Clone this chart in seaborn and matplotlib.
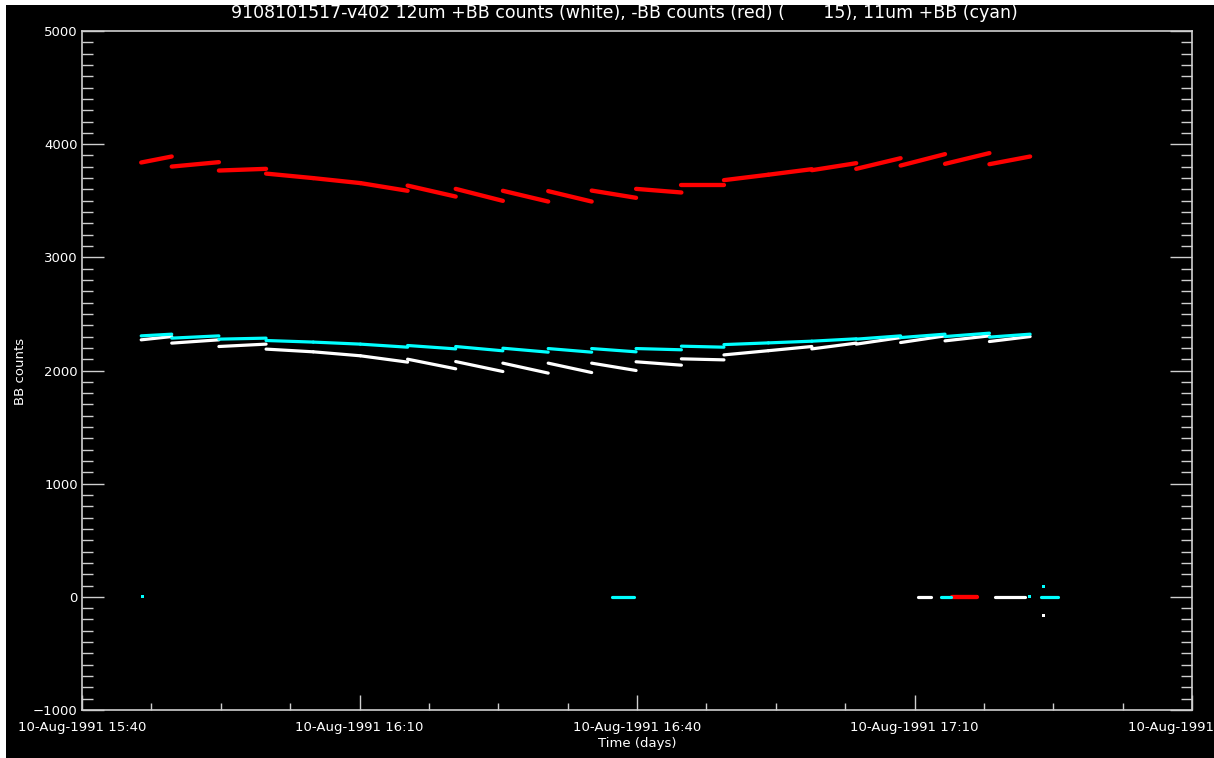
"""BB counts vs time, 9108101517-v402 — 12um +BB / -BB and 11um +BB cal cycles."""

import matplotlib
matplotlib.use("Agg")
import matplotlib.pyplot as plt
import matplotlib.dates as mdates
from matplotlib.patches import Rectangle
from matplotlib.ticker import FixedLocator, MultipleLocator
import pandas as pd
import seaborn as sns

DAY = "1991-08-10"
TITLE = "9108101517-v402 12um +BB counts (white), -BB counts (red) (       15), 11um +BB (cyan)"

# boundaries of the calibration cycles (one line piece per cycle)
SEG_EDGES = [
    "15:46:24", "15:49:42", "15:54:48", "15:59:54", "16:05:00", "16:10:06",
    "16:15:12", "16:20:24", "16:25:30", "16:30:24", "16:35:06", "16:39:54",
    "16:44:48", "16:49:24", "16:54:12", "16:58:54", "17:03:42", "17:08:30",
    "17:13:18", "17:18:06", "17:22:30",
]

# counts at start / end of every cycle
WHITE_START = [2271, 2242, 2212, 2189, 2165, 2130, 2100, 2079, 2065, 2065,
               2065, 2077, 2103, 2138, 2175, 2191, 2233, 2247, 2262, 2256]
WHITE_END = [2300, 2271, 2233, 2165, 2130, 2074, 2015, 1991, 1977, 1982,
             2000, 2047, 2094, 2175, 2212, 2242, 2291, 2306, 2306, 2300]

RED_START = [3838, 3802, 3767, 3740, 3700, 3656, 3634, 3605, 3588, 3585,
             3590, 3605, 3641, 3682, 3730, 3770, 3782, 3811, 3826, 3823]
RED_END = [3891, 3841, 3782, 3700, 3656, 3588, 3537, 3499, 3493, 3493,
           3526, 3573, 3641, 3730, 3779, 3832, 3876, 3912, 3921, 3891]

CYAN_START = [2306, 2286, 2277, 2265, 2251, 2233, 2221, 2212, 2197, 2194,
              2194, 2194, 2215, 2229, 2244, 2259, 2277, 2291, 2300, 2295]
CYAN_END = [2321, 2306, 2286, 2251, 2233, 2206, 2191, 2174, 2162, 2162,
            2165, 2183, 2206, 2244, 2259, 2280, 2306, 2321, 2330, 2321]

# drop-outs sitting at zero
WHITE_ZERO_T0 = ["17:10:24", "17:18:42"]
WHITE_ZERO_T1 = ["17:11:48", "17:21:54"]
RED_ZERO_T0 = ["17:14:06"]
RED_ZERO_T1 = ["17:16:48"]
CYAN_ZERO_T0 = ["16:37:18", "17:12:54", "17:23:42"]
CYAN_ZERO_T1 = ["16:39:42", "17:13:54", "17:25:30"]

# single stray samples
DOT_SERIES = ["cyan", "white", "cyan", "cyan", "white"]
DOT_TIME = ["15:46:30", "17:16:42", "17:22:24", "17:23:54", "17:23:54"]
DOT_VALUE = [0, 0, 0, 88, -168]

COLORS = {"white": "#ffffff", "red": "#ff0000", "cyan": "#00ffff"}
WIDTHS = {"white": 2.3, "red": 3.1, "cyan": 2.3}


def ts(s):
    return pd.Timestamp(f"{DAY} {s}")


def pieces(series, t0, t1, v0, v1, tag):
    rows = []
    for i, (a, b, ya, yb) in enumerate(zip(t0, t1, v0, v1)):
        rows.append({"time": ts(a), "counts": ya, "series": series, "seg": f"{tag}{i}"})
        rows.append({"time": ts(b), "counts": yb, "series": series, "seg": f"{tag}{i}"})
    return rows


def main():
    rows = []
    rows += pieces("white", SEG_EDGES[:-1], SEG_EDGES[1:], WHITE_START, WHITE_END, "w")
    rows += pieces("white", WHITE_ZERO_T0, WHITE_ZERO_T1, [0] * 2, [0] * 2, "wz")
    rows += pieces("red", SEG_EDGES[:-1], SEG_EDGES[1:], RED_START, RED_END, "r")
    rows += pieces("red", RED_ZERO_T0, RED_ZERO_T1, [0], [0], "rz")
    rows += pieces("cyan", SEG_EDGES[:-1], SEG_EDGES[1:], CYAN_START, CYAN_END, "c")
    rows += pieces("cyan", CYAN_ZERO_T0, CYAN_ZERO_T1, [0] * 3, [0] * 3, "cz")
    df = pd.DataFrame(rows)

    dots = pd.DataFrame({
        "time": [ts(t) for t in DOT_TIME],
        "counts": DOT_VALUE,
        "series": DOT_SERIES,
    })

    sns.set_theme(style="dark")
    plt.rcParams["font.family"] = ["DejaVu Sans"]

    fig = plt.figure(figsize=(12.14, 7.58), dpi=100, facecolor="white")
    # black plot window, thin white margin left and top only
    fig.patches.append(Rectangle((6 / 1214, -0.02), 1.05, 1.02 - 5 / 758,
                                 transform=fig.transFigure, facecolor="black",
                                 edgecolor="none", zorder=-10))
    ax = fig.add_axes([82 / 1214, 1 - 710 / 758, 1110 / 1214, 679 / 758])
    ax.set_facecolor("black")

    for name in ["white", "red", "cyan"]:
        sub = df[df["series"] == name]
        sns.lineplot(data=sub, x="time", y="counts", units="seg", estimator=None,
                     sort=False, color=COLORS[name], lw=WIDTHS[name], ax=ax,
                     legend=False)
    sns.scatterplot(data=dots, x="time", y="counts", hue="series", palette=COLORS,
                    marker="s", s=5, linewidth=0, legend=False, ax=ax)

    # axes / ticks
    ax.set_xlim(ts("15:40"), ts("17:40"))
    ax.set_ylim(-1000, 5000)
    major = mdates.date2num(pd.date_range(ts("15:40"), ts("17:40"), freq="30min"))
    minor = mdates.date2num(pd.date_range(ts("15:40"), ts("17:40"), freq="450s"))
    ax.xaxis.set_major_locator(FixedLocator(major))
    ax.xaxis.set_minor_locator(FixedLocator(minor))
    ax.xaxis.set_major_formatter(mdates.DateFormatter("%d-%b-%Y %H:%M"))
    ax.yaxis.set_major_locator(MultipleLocator(1000))
    ax.yaxis.set_minor_locator(MultipleLocator(100))
    ax.grid(False)

    edge = "#cfcfcf"
    for sp in ax.spines.values():
        sp.set_visible(True)
        sp.set_color(edge)
        sp.set_linewidth(1.2)
    ax.tick_params(which="both", direction="in", bottom=True, left=True,
                   top=False, right=True, color=edge, width=1,
                   labelcolor="white", labelsize=9.5)
    ax.tick_params(axis="y", which="major", length=16, pad=3)
    ax.tick_params(axis="y", which="minor", length=8)
    ax.tick_params(axis="x", which="major", length=10.5, pad=8)
    ax.tick_params(axis="x", which="minor", length=4.7)
    ax.set_xlabel("")
    ax.set_ylabel("")

    fig.text(624 / 1214, 1 - 13 / 758, TITLE, color="white", fontsize=12.5,
             ha="center", va="center")
    fig.text(637 / 1214, 1 - 743 / 758, "Time (days)", color="white", fontsize=9.5,
             ha="center", va="center")
    fig.text(20 / 1214, 1 - 371 / 758, "BB counts", color="white", fontsize=9.5,
             ha="center", va="center", rotation=90)

    fig.savefig("out.png", dpi=100, facecolor=fig.get_facecolor())
    plt.close(fig)


if __name__ == "__main__":
    main()
